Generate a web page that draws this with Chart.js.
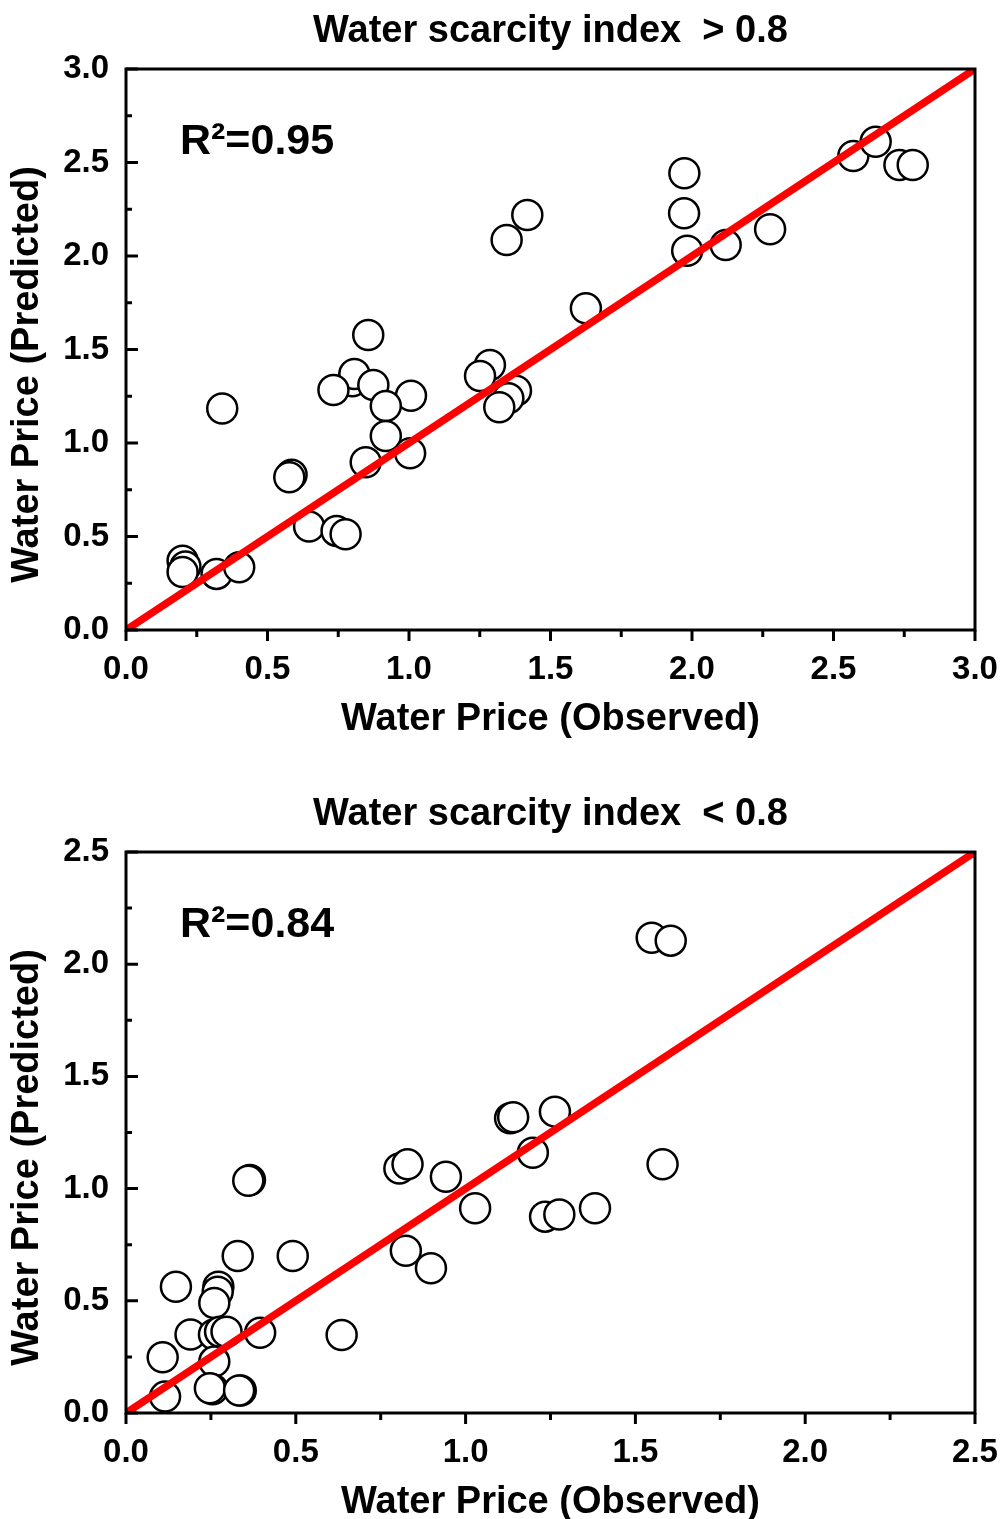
<!DOCTYPE html>
<html>
<head>
<meta charset="utf-8">
<script src="https://cdn.jsdelivr.net/npm/chart.js@4.4.0/dist/chart.umd.min.js"></script>
<style>
html,body{margin:0;padding:0;background:#fff;overflow:hidden;}
#top{position:absolute;left:0;top:0;}
#bottom{position:absolute;left:0;top:783px;}
</style>
</head>
<body>
<canvas id="top" width="1005" height="783"></canvas>
<canvas id="bottom" width="1005" height="783"></canvas>
<script>
// scarcity index > 0.8
const obsHigh=[0.20,0.21,0.20,0.32,0.40,0.34,0.585,0.577,0.647,0.744,0.776,0.856,0.80,0.807,0.874,0.733,1.007,0.918,0.918,0.847,1.004,1.418,1.345,1.625,1.286,1.251,1.378,1.351,1.319,1.973,1.972,1.983,2.119,2.276,2.57,2.649,2.733,2.78];
const predHigh=[0.37,0.34,0.31,0.30,0.335,1.185,0.83,0.817,0.553,0.53,0.512,1.578,1.33,1.369,1.31,1.283,1.253,1.198,1.037,0.897,0.945,2.219,2.086,1.72,1.417,1.358,1.28,1.239,1.191,2.442,2.228,2.028,2.059,2.143,2.535,2.611,2.487,2.487];
// scarcity index < 0.8
const obsLow=[0.365,0.36,0.329,0.491,0.147,0.272,0.27,0.26,0.19,0.259,0.277,0.296,0.395,0.635,0.108,0.26,0.115,0.255,0.247,0.338,0.333,0.805,0.829,0.942,1.028,0.824,0.898,1.131,1.14,1.263,1.198,1.234,1.276,1.381,1.58,1.548,1.604];
const predLow=[1.038,1.035,0.70,0.70,0.563,0.563,0.54,0.49,0.35,0.35,0.362,0.362,0.358,0.348,0.248,0.229,0.073,0.106,0.11,0.10,0.10,1.09,1.108,1.053,0.912,0.723,0.645,1.313,1.318,1.343,1.16,0.875,0.885,0.912,1.108,2.118,2.105];

const axisMaxHigh=3.0;
const axisMaxLow=2.5;
const titleHigh="Water scarcity index  > 0.8";
const titleLow="Water scarcity index  < 0.8";
const r2High="R\u00B2=0.95";
const r2Low="R\u00B2=0.84";
const xTitle="Water Price (Observed)";
const yTitle="Water Price (Predicted)";

const FONT="'Liberation Sans', Arial, sans-serif";

// frame, inward y ticks, outward x ticks, minor ticks, y title and R2 label
const frameTicks={
  id:"frameTicks",
  afterDraw(chart,args,opts){
    const ctx=chart.ctx;
    const a=chart.chartArea;
    const xs=chart.scales.x;
    const ys=chart.scales.y;
    ctx.save();
    ctx.strokeStyle="#000";
    ctx.lineWidth=3;
    ctx.strokeRect(a.left,a.top,a.right-a.left,a.bottom-a.top);
    const n=Math.round(opts.max/0.25);
    let i=0;
    while(i<=n)
    {
      const v=i*0.25;
      const major=(i%2===0);
      const px=xs.getPixelForValue(v);
      const py=ys.getPixelForValue(v);
      ctx.beginPath();
      ctx.moveTo(px,a.bottom);
      ctx.lineTo(px,a.bottom+(major?11:7));
      ctx.moveTo(a.left,py);
      ctx.lineTo(a.left+(major?12:6),py);
      ctx.stroke();
      i++;
    }
    ctx.fillStyle="#000";
    ctx.font="bold 43px "+FONT;
    ctx.textAlign="left";
    ctx.textBaseline="alphabetic";
    ctx.fillText(opts.r2,a.left+54,a.top+85);
    ctx.translate(28,(a.top+a.bottom)/2+25);
    ctx.rotate(-Math.PI/2);
    ctx.font="bold 38px "+FONT;
    ctx.textAlign="center";
    ctx.textBaseline="middle";
    ctx.fillText(yTitle,0,0);
    ctx.restore();
  }
};

function makeChart(canvas,obs,pred,axisMax,title,r2)
{
  const pts=obs.map((v,k)=>({x:v,y:pred[k]}));
  return new Chart(canvas,{
    type:"scatter",
    data:{
      datasets:[
        {
          data:[{x:0,y:0},{x:axisMax,y:axisMax}],
          showLine:true,
          borderColor:"#ff0000",
          borderWidth:7.5,
          pointRadius:0,
          order:0
        },
        {
          data:pts,
          backgroundColor:"#ffffff",
          borderColor:"#000000",
          borderWidth:2.5,
          pointRadius:15,
          order:1
        }
      ]
    },
    options:{
      responsive:false,
      animation:false,
      devicePixelRatio:1,
      layout:{padding:{left:0,right:30,top:0,bottom:0}},
      plugins:{
        legend:{display:false},
        tooltip:{enabled:false},
        title:{
          display:true,
          text:title,
          fullSize:false,
          color:"#000",
          font:{family:FONT,size:38,weight:"bold",lineHeight:1.2},
          padding:{top:9,bottom:14.4}
        },
        frameTicks:{max:axisMax,r2:r2}
      },
      scales:{
        x:{
          type:"linear",
          min:0,
          max:axisMax,
          border:{display:false},
          grid:{display:false,drawTicks:false},
          ticks:{
            stepSize:0.5,
            autoSkip:false,
            maxRotation:0,
            padding:20,
            color:"#000",
            font:{family:FONT,size:33,weight:"bold"},
            callback:v=>v.toFixed(1)
          },
          title:{
            display:true,
            text:xTitle,
            color:"#000",
            font:{family:FONT,size:38,weight:"bold",lineHeight:1.2},
            padding:{top:0,bottom:41}
          },
          afterFit:s=>{s.height=153;s.paddingLeft=0;s.paddingRight=0;}
        },
        y:{
          type:"linear",
          min:0,
          max:axisMax,
          border:{display:false},
          grid:{display:false,drawTicks:false},
          ticks:{
            stepSize:0.5,
            autoSkip:false,
            padding:17,
            color:"#000",
            font:{family:FONT,size:33,weight:"bold"},
            callback:v=>v.toFixed(1)
          },
          afterFit:s=>{s.width=126;s.paddingTop=0;s.paddingBottom=0;}
        }
      }
    },
    plugins:[frameTicks]
  });
}

makeChart(document.querySelector("#top"),obsHigh,predHigh,axisMaxHigh,titleHigh,r2High);
makeChart(document.querySelector("#bottom"),obsLow,predLow,axisMaxLow,titleLow,r2Low);
</script>
</body>
</html>
